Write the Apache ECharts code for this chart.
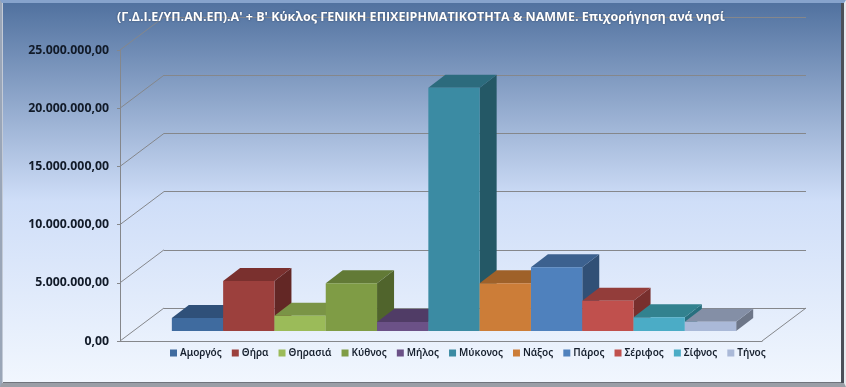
<!DOCTYPE html>
<html>
<head>
<meta charset="utf-8">
<style>
  html, body { margin: 0; padding: 0; background: #fff; }
  #chart { position: absolute; left: 0; top: 0; width: 846px; height: 387px; }
  #frame { position: absolute; left: 0; top: 0; width: 846px; height: 387px; box-sizing: border-box; pointer-events: none;
    border-style: solid; border-width: 3px 2px 4px 2px; border-color: #86a3cc #e6e9ee #9a9ea6 #9aa6b8;
    box-shadow: inset -3px 0 0 #4b4f58, inset 1px 0 0 #c3cad6, inset 0 -1px 0 #70747c; }
</style>
<script src="https://cdn.jsdelivr.net/npm/echarts@6/dist/echarts.min.js"></script>
</head>
<body>
<div id="chart"></div>
<div id="frame"></div>
<script>
const islands = ['Αμοργός', 'Θήρα', 'Θηρασιά', 'Κύθνος', 'Μήλος', 'Μύκονος', 'Νάξος', 'Πάρος', 'Σέριφος', 'Σίφνος', 'Τήνος'];
const grants = [1120000, 4300000, 1300000, 4100000, 770000, 20900000, 4100000, 5470000, 2600000, 1180000, 800000];
const yTicks = [0, 5000000, 10000000, 15000000, 20000000, 25000000];
const titleText = "(Γ.Δ.Ι.Ε/ΥΠ.ΑΝ.ΕΠ).Α' + Β' Κύκλος ΓΕΝΙΚΗ ΕΠΙΧΕΙΡΗΜΑΤΙΚΟΤΗΤΑ & ΝΑΜΜΕ. Επιχορήγηση ανά νησί";

const frontColors = ['#3f6b9f', '#9c403d', '#9bbb59', '#7f9c45', '#6b5187', '#3b8ba3', '#cc7d38', '#4f81bd', '#c0504d', '#4bacc6', '#aab9d8'];
const topColors = ['#2f5079', '#7a302e', '#7a9446', '#627a36', '#503c66', '#2c6b7d', '#9f6129', '#3c618f', '#933d3a', '#32828f', '#848fa6'];
const sideColors = ['#27456a', '#632725', '#637a39', '#50642c', '#412f54', '#245866', '#834f22', '#315076', '#782f2d', '#28707f', '#6d7688'];

const gridColor = '#85878b';
// depth of the wall box and of the bars, in px
const wallDepth = [44, -33];
const barOffset = [13, -10];
const barDepth = [17, -13];
// the islands are 11 series clustered in one unnamed category
const clusterRatio = 0.879;

function fmtMoney(v) {
  const s = String(Math.round(v)).replace(/\B(?=(\d{3})+$)/g, '.');
  return s + ',00';
}

function renderBar(idx) {
  return function (params, api) {
    const base = api.coord([0, 0]);
    const top = api.coord([0, api.value(1)]);
    const cluster = api.size([1, 0])[0] * clusterRatio;
    const w = cluster / islands.length;
    const x0 = base[0] - cluster / 2 + idx * w + barOffset[0];
    const x1 = x0 + w;
    const y0 = base[1] + barOffset[1];
    const y1 = top[1] + barOffset[1];
    const dx = barDepth[0];
    const dy = barDepth[1];
    return {
      type: 'group',
      children: [
        { type: 'polygon', shape: { points: [[x1, y0], [x1 + dx, y0 + dy], [x1 + dx, y1 + dy], [x1, y1]] }, style: { fill: sideColors[idx] } },
        { type: 'polygon', shape: { points: [[x0, y1], [x1, y1], [x1 + dx, y1 + dy], [x0 + dx, y1 + dy]] }, style: { fill: topColors[idx] } },
        { type: 'rect', shape: { x: x0, y: y1, width: w, height: y0 - y1 }, style: { fill: frontColors[idx] } }
      ]
    };
  };
}

const barSeries = islands.map((name, i) => ({
  name: name,
  type: 'custom',
  xAxisIndex: 0,
  yAxisIndex: 0,
  z: 5,
  itemStyle: { color: frontColors[i] },
  renderItem: renderBar(i),
  encode: { x: 0, y: 1 },
  data: [[0, grants[i]]]
}));

// side wall diagonals, one for each tick, and the right edge of the floor
const wallSeries = {
  type: 'custom',
  silent: true,
  xAxisIndex: 0,
  yAxisIndex: 0,
  z: 2,
  encode: { y: 0 },
  renderItem: function (params, api) {
    const sys = params.coordSys;
    const y = api.coord([0, api.value(0)])[1];
    const lines = [{ x1: sys.x, y1: y, x2: sys.x + wallDepth[0], y2: y + wallDepth[1] }];
    if (api.value(0) === 0) {
      lines.push({ x1: sys.x + sys.width, y1: y, x2: sys.x + sys.width + wallDepth[0], y2: y + wallDepth[1] });
    }
    return {
      type: 'group',
      children: lines.map(l => ({ type: 'line', shape: l, style: { stroke: gridColor, lineWidth: 1 } }))
    };
  },
  data: yTicks.map(t => [t])
};

const chart = echarts.init(document.getElementById('chart'), null, { renderer: 'canvas' });

chart.setOption({
  animation: false,
  backgroundColor: {
    type: 'linear', x: 0, y: 0, x2: 0, y2: 1,
    colorStops: [
      { offset: 0, color: '#4f709e' },
      { offset: 0.52, color: '#cfdef8' },
      { offset: 1, color: '#f2f7fe' }
    ]
  },
  title: {
    text: titleText,
    left: 112,
    top: 6,
    z: 10,
    textStyle: {
      color: '#ffffff',
      fontFamily: 'Open Sans',
      fontWeight: 'bold',
      fontSize: 12.5,
      textShadowColor: 'rgba(30,40,60,0.6)',
      textShadowBlur: 2
    }
  },
  legend: {
    left: 165,
    top: 343,
    itemWidth: 7,
    itemHeight: 7,
    itemGap: 10,
    icon: 'rect',
    data: islands,
    textStyle: { color: '#17202e', fontFamily: 'Noto Sans', fontSize: 10, fontWeight: 600, padding: [0, 0, 0, -2] }
  },
  grid: [
    { left: 120, right: 84, top: 50, bottom: 46 },
    { left: 164, right: 40, top: 17, bottom: 79 }
  ],
  xAxis: [
    {
      gridIndex: 0,
      type: 'category',
      data: [''],
      axisTick: { show: false },
      axisLabel: { show: false },
      axisLine: { show: true, lineStyle: { color: gridColor, width: 1 } }
    },
    {
      gridIndex: 1,
      type: 'category',
      data: [''],
      axisTick: { show: false },
      axisLabel: { show: false },
      axisLine: { show: false }
    }
  ],
  yAxis: [
    {
      gridIndex: 0,
      type: 'value',
      min: 0,
      max: 25000000,
      interval: 5000000,
      axisLine: { show: true, lineStyle: { color: gridColor, width: 1 } },
      axisTick: { show: true, length: 3, lineStyle: { color: gridColor } },
      splitLine: { show: false },
      axisLabel: {
        margin: 11,
        color: '#111a28',
        fontFamily: 'Noto Sans',
        fontWeight: 'bold',
        fontSize: 12.3,
        formatter: fmtMoney
      }
    },
    {
      gridIndex: 1,
      type: 'value',
      min: 0,
      max: 25000000,
      interval: 5000000,
      axisLine: { show: false },
      axisTick: { show: false },
      axisLabel: { show: false },
      splitLine: { show: true, lineStyle: { color: gridColor, width: 1 } }
    }
  ],
  series: [wallSeries].concat(barSeries)
});
</script>
</body>
</html>
